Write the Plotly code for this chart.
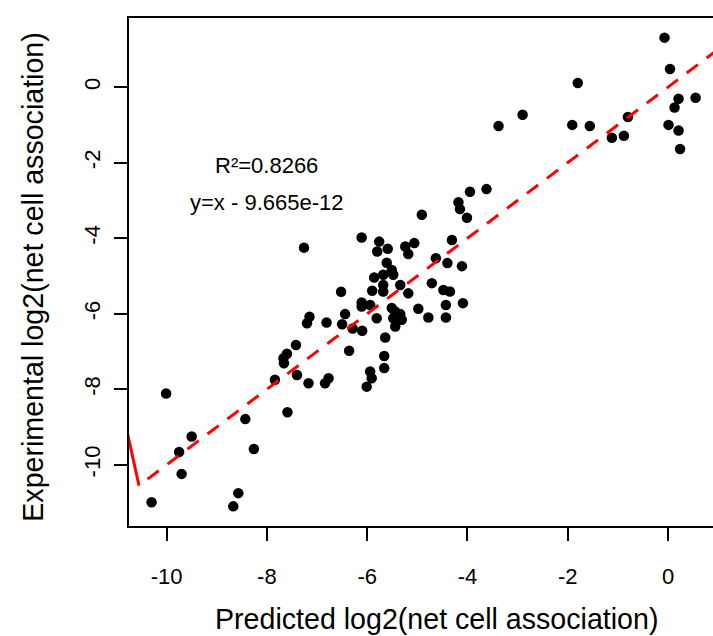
import plotly.graph_objects as go

# Predicted (x) and experimental (y) log2(net cell association)
pred = [-0.07, 0.04, -1.80, 0.21, 0.55, 0.13, -2.90, -3.38, -1.91, -1.56,
        -0.80, 0.01, 0.21, -1.12, -0.88, 0.24, -3.95, -3.62, -4.18, -4.15,
        -4.01, -4.91, -4.31, -4.63, -4.40, -4.11, -5.06, -5.24, -5.18, -5.76,
        -6.11, -5.80, -5.59, -7.26, -5.61, -5.51, -5.68, -5.48, -5.86, -5.68,
        -5.68, -5.90, -5.34, -5.18, -4.71, -4.48, -4.35, -4.43, -4.09, -4.98,
        -4.78, -4.43, -5.51, -5.44, -5.34, -5.48, -5.31, -5.44, -5.81, -6.11,
        -6.11, -5.94, -6.52, -6.44, -6.50, -6.29, -6.10, -5.64, -6.81, -7.15,
        -7.20, -7.42, -7.60, -7.67, -7.66, -6.36, -5.66, -5.66, -5.94, -5.91,
        -6.01, -7.40, -7.17, -6.84, -6.77, -7.84, -7.59, -8.43, -8.26, -9.50,
        -9.75, -9.70, -10.01, -10.30, -8.57, -8.67]
expt = [1.31, 0.48, 0.11, -0.31, -0.28, -0.54, -0.73, -1.03, -1.00, -1.03,
        -0.79, -1.00, -1.15, -1.34, -1.29, -1.64, -2.77, -2.70, -3.05, -3.23,
        -3.46, -3.38, -4.05, -4.53, -4.66, -4.74, -4.13, -4.22, -4.42, -4.09,
        -3.98, -4.35, -4.28, -4.25, -4.65, -4.84, -4.97, -4.97, -5.04, -5.24,
        -5.41, -5.39, -5.24, -5.46, -5.19, -5.37, -5.41, -5.77, -5.72, -5.87,
        -6.10, -6.10, -5.85, -5.94, -6.01, -6.12, -6.16, -6.34, -6.12, -5.70,
        -5.81, -5.77, -5.42, -6.01, -6.28, -6.39, -6.45, -6.63, -6.23, -6.08,
        -6.25, -6.83, -7.06, -7.18, -7.31, -6.98, -7.12, -7.44, -7.53, -7.71,
        -7.93, -7.62, -7.84, -7.84, -7.71, -7.75, -8.61, -8.79, -9.58, -9.25,
        -9.66, -10.24, -8.11, -10.99, -10.75, -11.10]

# fitted line (y = x) and the short solid red segment at the left edge
fit_x = [-10.38, 1.2]
fit_y = [-10.38, 1.2]
seg_x = [-10.80, -10.55]
seg_y = [-9.05, -10.55]

tick_vals = [-10, -8, -6, -4, -2, 0]
tick_text = ["-10", "-8", "-6", "-4", "-2", "0"]

r2_text = "R²=0.8266"
eq_text = "y=x - 9.665e-12"
xlab = "Predicted log2(net cell association)"
ylab = "Experimental log2(net cell association)"

FONT = "Liberation Sans, Arial, sans-serif"

fig = go.Figure()
fig.add_trace(go.Scatter(x=pred, y=expt, mode="markers",
                         marker=dict(size=10.5, color="black", line=dict(width=0)),
                         showlegend=False, hoverinfo="skip"))
fig.add_trace(go.Scatter(x=fit_x, y=fit_y, mode="lines",
                         line=dict(color="#ff0000", width=3, dash="14px,11px"),
                         showlegend=False, hoverinfo="skip"))
fig.add_trace(go.Scatter(x=seg_x, y=seg_y, mode="lines",
                         line=dict(color="#ff0000", width=3),
                         showlegend=False, hoverinfo="skip"))

fig.add_annotation(x=-8.0, y=-2.08, text=r2_text, showarrow=False,
                   xanchor="center", yanchor="middle",
                   font=dict(family=FONT, size=22, color="black"))
fig.add_annotation(x=-8.0, y=-3.05, text=eq_text, showarrow=False,
                   xanchor="center", yanchor="middle",
                   font=dict(family=FONT, size=22, color="black"))

fig.add_annotation(xref="paper", yref="paper", x=0.5265, y=-0.184,
                   text=xlab, showarrow=False, xanchor="center", yanchor="middle",
                   font=dict(family=FONT, size=28.6, color="black"))
fig.add_annotation(xref="paper", yref="paper", x=-0.165, y=0.49,
                   text=ylab, showarrow=False, xanchor="center", yanchor="middle",
                   textangle=-90,
                   font=dict(family=FONT, size=28.6, color="black"))

fig.update_layout(
    width=713, height=636,
    margin=dict(l=129, r=0, t=18, b=110),
    paper_bgcolor="white", plot_bgcolor="white",
    font=dict(family=FONT, size=22, color="black"),
    xaxis=dict(range=[-10.75, 0.897], showgrid=False, zeroline=False,
               showline=True, linecolor="black", linewidth=2, mirror=True,
               ticks="outside", ticklen=13, tickwidth=2, tickcolor="black",
               tickvals=tick_vals, ticktext=tick_text,
               ticklabelstandoff=17,
               tickfont=dict(family=FONT, size=22, color="black")),
    yaxis=dict(range=[-11.62, 1.83], showgrid=False, zeroline=False,
               showline=True, linecolor="black", linewidth=2, mirror=False,
               ticks="outside", ticklen=13, tickwidth=2, tickcolor="black",
               tickvals=tick_vals, ticktext=tick_text, tickangle=-90,
               ticklabelstandoff=5,
               tickfont=dict(family=FONT, size=22, color="black")),
)

fig.write_html("out.html",
               config={"displayModeBar": False},
               post_script="document.body.style.margin='0';document.body.style.overflow='hidden';")
